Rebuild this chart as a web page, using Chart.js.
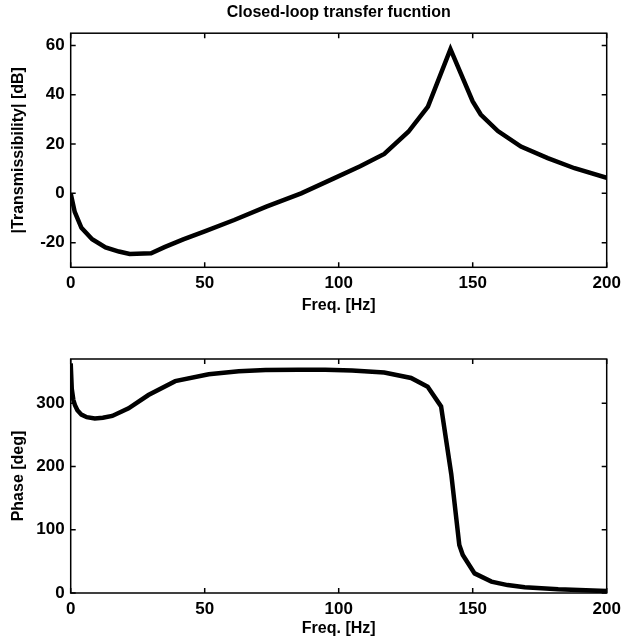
<!DOCTYPE html>
<html lang="en">
<head>
  <meta charset="UTF-8">
  <script src="https://cdn.jsdelivr.net/npm/chart.js"></script>
  <style>
    body { margin: 0; background: #fff; }
    .plot { position: absolute; left: 0; width: 622px; }
    #magPlot { top: 0; height: 320px; }
    #phasePlot { top: 320px; height: 321px; }
  </style>
</head>
<body>
  <div class="plot" id="magPlot"><canvas id="magChart"></canvas></div>
  <div class="plot" id="phasePlot"><canvas id="phaseChart"></canvas></div>

  <script>
    // magnitude curve
    const freqMag = [0, 1.5, 4, 8, 13, 18, 22, 30, 35, 42, 50, 61, 73, 86, 98, 108, 117, 126, 133.3, 141.7, 150, 153, 159.4, 168, 178, 188, 200];
    const magDb   = [0, -7.5, -14, -18.6, -21.9, -23.6, -24.6, -24.3, -21.8, -18.7, -15.4, -10.8, -5.4, 0, 6, 11, 16, 25, 35.2, 58.5, 37.3, 32, 25.3, 19, 14.3, 10.2, 6.3];

    // phase curve
    const freqPhase = [0, 0.4, 1, 1.6, 2.5, 4, 6, 9, 12, 15.5, 21.6, 29, 39, 51.5, 62.7, 72.7, 85, 95, 105, 117, 127, 133.2, 138.2, 142, 145, 146.3, 150.7, 157, 163, 169.4, 181.9, 200];
    const phaseDeg  = [363, 323, 305, 297, 289, 282, 278, 276, 277, 280, 292, 313, 335, 346, 350.5, 352.5, 353, 353, 352, 348.6, 340, 326, 295, 188, 76, 60, 31, 18, 12.5, 9, 5.8, 3];

    const freqTicks = [0, 50, 100, 150, 200];
    const magTicks = [-20, 0, 20, 40, 60];
    const phaseTicks = [0, 100, 200, 300];

    const FONT = "'Liberation Sans', Arial, Helvetica, sans-serif";

    // matlab style box with ticks pointing inward on all four sides
    const boxTicks = {
      id: 'boxTicks',
      afterDatasetsDraw(chart) {
        const { ctx, chartArea: a, scales: { x, y } } = chart;
        const len = 5;
        ctx.save();
        ctx.strokeStyle = '#000';
        ctx.lineWidth = 1.5;
        ctx.beginPath();
        x.ticks.forEach(t => {
          const px = x.getPixelForValue(t.value);
          ctx.moveTo(px, a.bottom); ctx.lineTo(px, a.bottom - len);
          ctx.moveTo(px, a.top); ctx.lineTo(px, a.top + len);
        });
        y.ticks.forEach(t => {
          const py = y.getPixelForValue(t.value);
          ctx.moveTo(a.left, py); ctx.lineTo(a.left + len, py);
          ctx.moveTo(a.right, py); ctx.lineTo(a.right - len, py);
        });
        ctx.stroke();
        ctx.strokeRect(a.left, a.top, a.right - a.left, a.bottom - a.top);
        ctx.restore();
      }
    };

    function makeChart(canvasId, xs, ys, yMin, yMax, yTickVals, yLabel, opts) {
      return new Chart(document.getElementById(canvasId), {
        type: 'line',
        data: {
          datasets: [{
            data: xs.map((f, i) => ({ x: f, y: ys[i] })),
            borderColor: '#000',
            borderWidth: 4.5,
            pointRadius: 0,
            tension: 0,
            fill: false
          }]
        },
        options: {
          responsive: true,
          maintainAspectRatio: false,
          animation: false,
          layout: { padding: { top: opts.padTop, right: 15.3, bottom: 0, left: 0 } },
          plugins: {
            legend: { display: false },
            tooltip: { enabled: false },
            title: opts.title ? {
              display: true,
              fullSize: false,   // centre over the plot box, not the canvas
              text: opts.title,
              color: '#000',
              font: { family: FONT, size: 16, weight: 'bold' },
              padding: { top: 3, bottom: 11 }
            } : { display: false }
          },
          scales: {
            x: {
              type: 'linear',
              min: 0,
              max: 200,
              afterBuildTicks: s => { s.ticks = freqTicks.map(v => ({ value: v })); },
              afterFit: s => { s.height = opts.xHeight; s.paddingLeft = 0; s.paddingRight = 0; },
              grid: { display: false, drawTicks: false },
              border: { display: false },
              ticks: { color: '#000', padding: 6, font: { family: FONT, size: 17, weight: 'bold' } },
              title: {
                display: true,
                text: 'Freq. [Hz]',
                color: '#000',
                font: { family: FONT, size: 16, weight: 'bold' },
                padding: { top: opts.xTitlePad, bottom: opts.xTitlePad }
              }
            },
            y: {
              type: 'linear',
              min: yMin,
              max: yMax,
              afterBuildTicks: s => { s.ticks = yTickVals.map(v => ({ value: v })); },
              afterFit: s => { s.width = 70.7; s.paddingTop = 0; s.paddingBottom = 0; },
              grid: { display: false, drawTicks: false },
              border: { display: false },
              ticks: { color: '#000', padding: 6, font: { family: FONT, size: 17, weight: 'bold' } },
              title: {
                display: true,
                text: yLabel,
                color: '#000',
                font: { family: FONT, size: 16, weight: 'bold' },
                padding: { top: 9, bottom: 9 }
              }
            }
          }
        },
        plugins: [boxTicks]
      });
    }

    makeChart('magChart', freqMag, magDb, -30, 65, magTicks, '|Transmissibility| [dB]',
      { title: 'Closed-loop transfer fucntion', padTop: 0, xHeight: 52.7, xTitlePad: 5 });

    makeChart('phaseChart', freqPhase, phaseDeg, 0, 370, phaseTicks, 'Phase [deg]',
      { title: null, padTop: 39, xHeight: 48, xTitlePad: 3 });
  </script>
</body>
</html>
